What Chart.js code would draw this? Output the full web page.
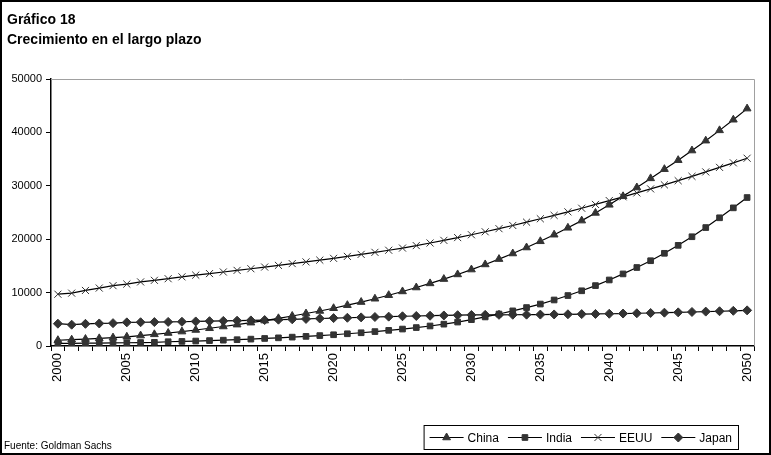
<!DOCTYPE html>
<html lang="es">
<head>
<meta charset="UTF-8">
<title>Crecimiento en el largo plazo</title>
<script src="https://cdn.jsdelivr.net/npm/chart.js"></script>
<style>
    html, body { margin: 0; padding: 0; background: #fff; }
    #wrap { position: relative; width: 771px; height: 455px; }
</style>
</head>
<body>
<div id="wrap"><canvas id="grafico"></canvas></div>
<script>
// Años 2000-2050
const years = [
    2000, 2001, 2002, 2003, 2004, 2005, 2006, 2007, 2008, 2009,
    2010, 2011, 2012, 2013, 2014, 2015, 2016, 2017, 2018, 2019,
    2020, 2021, 2022, 2023, 2024, 2025, 2026, 2027, 2028, 2029,
    2030, 2031, 2032, 2033, 2034, 2035, 2036, 2037, 2038, 2039,
    2040, 2041, 2042, 2043, 2044, 2045, 2046, 2047, 2048, 2049, 2050
];

const china = [
    1078, 1180, 1300, 1430, 1570, 1724, 1950, 2180, 2430, 2700,
    2998, 3320, 3650, 4000, 4370, 4754, 5180, 5620, 6080, 6560,
    7070, 7640, 8230, 8850, 9510, 10213, 10950, 11720, 12530, 13400,
    14312, 15270, 16270, 17320, 18440, 19605, 20840, 22130, 23480, 24920,
    26439, 28030, 29680, 31390, 33110, 34799, 36600, 38450, 40380, 42370, 44453
];

const india = [
    500, 510, 530, 550, 580, 610, 650, 690, 800, 860,
    929, 1010, 1090, 1180, 1290, 1411, 1530, 1660, 1800, 1950,
    2104, 2290, 2480, 2700, 2930, 3174, 3450, 3750, 4090, 4480,
    4935, 5440, 5990, 6580, 7200, 7854, 8620, 9450, 10340, 11310,
    12367, 13500, 14700, 15970, 17360, 18847, 20460, 22180, 24010, 25870, 27803
];

const eeuu = [
    9700, 9900, 10400, 10850, 11300, 11600, 12000, 12300, 12600, 12950,
    13271, 13560, 13860, 14160, 14470, 14786, 15100, 15430, 15750, 16080,
    16415, 16780, 17160, 17540, 17930, 18340, 18800, 19290, 19780, 20300,
    20833, 21390, 21970, 22570, 23190, 23828, 24460, 25120, 25800, 26510,
    27229, 27940, 28670, 29420, 30180, 30956, 31770, 32600, 33450, 34300, 35165
];

const japan = [
    4176, 3990, 4150, 4220, 4280, 4427, 4450, 4480, 4510, 4540,
    4601, 4650, 4700, 4740, 4790, 4858, 4930, 5000, 5070, 5150,
    5221, 5290, 5360, 5430, 5500, 5567, 5620, 5670, 5720, 5770,
    5810, 5830, 5840, 5850, 5870, 5882, 5910, 5940, 5970, 6000,
    6039, 6080, 6130, 6180, 6240, 6297, 6370, 6440, 6510, 6590, 6673
];

const yTicks = [0, 10000, 20000, 30000, 40000, 50000];

const FONT = '"Liberation Sans", Arial, sans-serif';
const MARK = '#333333';

function serie(label, data, style, radius) {
    return {
        label: label,
        data: data,
        borderColor: '#000000',
        borderWidth: 1.2,
        backgroundColor: MARK,
        pointBackgroundColor: MARK,
        pointBorderColor: MARK,
        pointBorderWidth: 1,
        pointStyle: style,
        pointRadius: radius,
        pointHoverRadius: radius,
        tension: 0,
        fill: false
    };
}

// marco exterior, titulo, fuente y leyenda dibujados a mano
const decoracion = {
    id: 'decoracion',
    afterDraw(chart) {
        const ctx = chart.ctx;
        const area = chart.chartArea;
        ctx.save();

        // borde gris superior y derecho del area del grafico
        ctx.strokeStyle = '#a0a0a0';
        ctx.lineWidth = 1;
        ctx.beginPath();
        ctx.moveTo(area.left, area.top + 0.5);
        ctx.lineTo(area.right + 0.5, area.top + 0.5);
        ctx.lineTo(area.right + 0.5, area.bottom);
        ctx.stroke();

        // marco
        ctx.strokeStyle = '#000';
        ctx.lineWidth = 2;
        ctx.strokeRect(1, 1, chart.width - 2, chart.height - 2);

        // titulo
        ctx.fillStyle = '#000';
        ctx.textAlign = 'left';
        ctx.textBaseline = 'alphabetic';
        ctx.font = 'bold 14px ' + FONT;
        ctx.fillText('Gráfico 18', 7, 24);
        ctx.fillText('Crecimiento en el largo plazo', 7, 44);

        // fuente
        ctx.font = '10px ' + FONT;
        ctx.fillText('Fuente: Goldman Sachs', 4, 449);

        // leyenda
        ctx.font = '12px ' + FONT;
        const lineLen = 34, gapText = 4, gapItem = 9, pad = 6;
        const items = chart.data.datasets.map(ds => ({ ds: ds, w: ctx.measureText(ds.label).width }));
        let total = pad * 2 - gapItem;
        items.forEach(it => { total += lineLen + gapText + it.w + gapItem; });
        const boxRight = 738, boxTop = 425, boxH = 24;
        const boxLeft = boxRight - total;
        ctx.lineWidth = 1;
        ctx.strokeStyle = '#000';
        ctx.strokeRect(boxLeft + 0.5, boxTop + 0.5, total, boxH);
        const cy = boxTop + boxH / 2 + 0.5;
        let x = boxLeft + pad;
        items.forEach(it => {
            ctx.strokeStyle = '#000';
            ctx.lineWidth = 1.2;
            ctx.beginPath();
            ctx.moveTo(x, cy);
            ctx.lineTo(x + lineLen, cy);
            ctx.stroke();
            ctx.fillStyle = MARK;
            ctx.strokeStyle = MARK;
            ctx.lineWidth = 1;
            Chart.helpers.drawPoint(ctx, {
                pointStyle: it.ds.pointStyle,
                radius: it.ds.pointRadius,
                borderWidth: 1
            }, x + lineLen / 2, cy);
            ctx.fillStyle = '#000';
            ctx.textBaseline = 'middle';
            ctx.fillText(it.ds.label, x + lineLen + gapText, cy + 1);
            x += lineLen + gapText + it.w + gapItem;
        });
        ctx.restore();
    }
};

new Chart(document.getElementById('grafico'), {
    type: 'line',
    data: {
        labels: years,
        datasets: [
            serie('China', china, 'triangle', 4.5),
            serie('India', india, 'rect', 4),
            serie('EEUU', eeuu, 'crossRot', 5),
            serie('Japan', japan, 'rectRot', 4.5)
        ]
    },
    options: {
        responsive: true,
        maintainAspectRatio: false,
        animation: false,
        events: [],
        layout: { padding: { top: 79, right: 17, bottom: 0, left: 0 } },
        plugins: {
            legend: { display: false },
            title: { display: false },
            tooltip: { enabled: false }
        },
        scales: {
            x: {
                type: 'category',
                offset: true,
                grid: {
                    offset: true,
                    drawOnChartArea: false,
                    drawTicks: true,
                    tickLength: 5,
                    color: '#000'
                },
                border: { color: '#000', width: 1.5 },
                ticks: {
                    autoSkip: false,
                    minRotation: 90,
                    maxRotation: 90,
                    padding: 2,
                    color: '#000',
                    font: { family: FONT, size: 13 },
                    callback: function (value, index) {
                        const y = years[index];
                        return y % 5 === 0 ? String(y) : '';
                    }
                },
                afterFit: function (scale) { scale.height = 109; }
            },
            y: {
                min: 0,
                max: 50000,
                afterBuildTicks: function (scale) {
                    scale.ticks = yTicks.map(v => ({ value: v }));
                },
                grid: {
                    drawOnChartArea: false,
                    drawTicks: true,
                    tickLength: 5,
                    color: '#000'
                },
                border: { color: '#000', width: 1.5 },
                ticks: {
                    padding: 4,
                    color: '#000',
                    font: { family: FONT, size: 11 },
                    callback: function (value) { return String(value); }
                },
                afterFit: function (scale) { scale.width = 51; }
            }
        }
    },
    plugins: [decoracion]
});
</script>
</body>
</html>
